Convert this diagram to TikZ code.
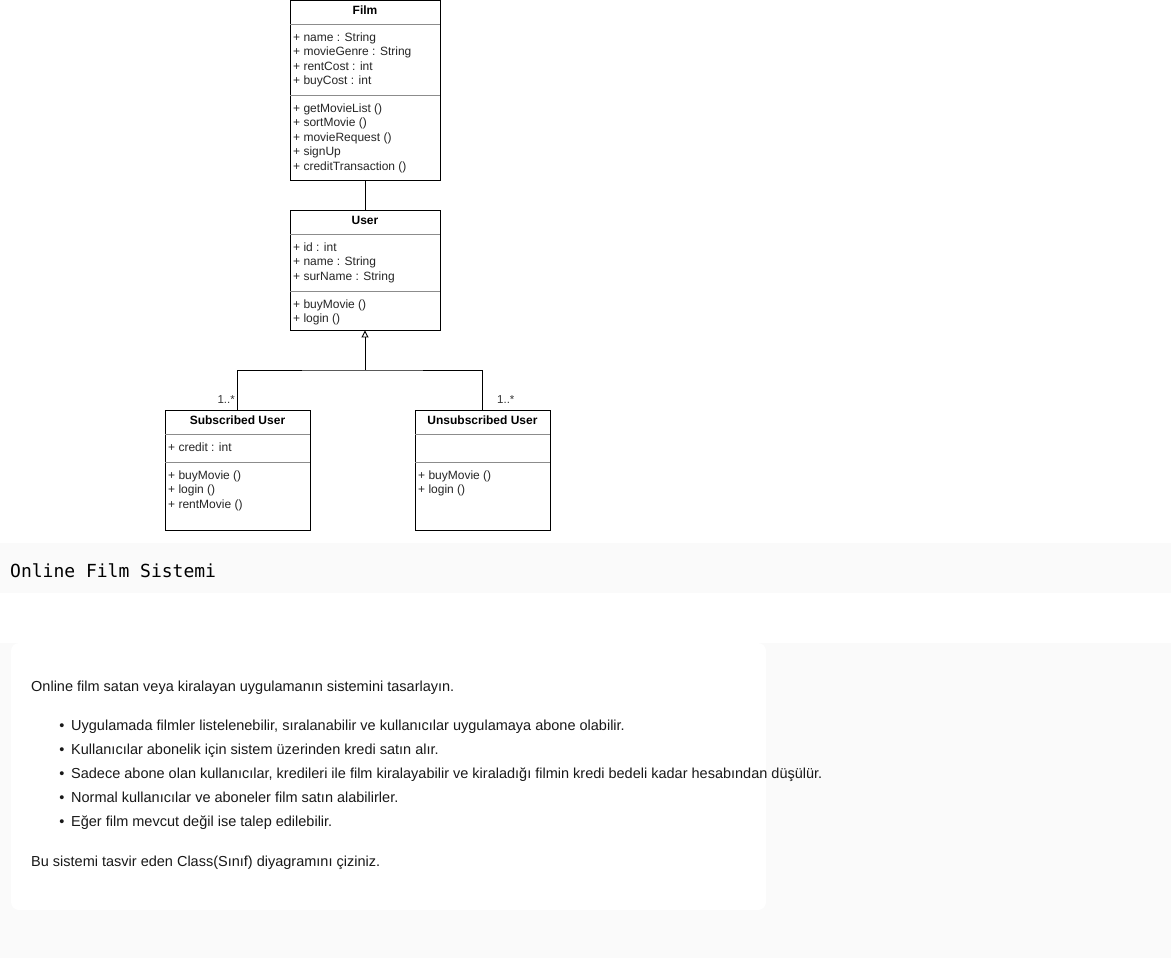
\documentclass[tikz,border=0pt]{standalone}
\usepackage{fontspec}
\setmainfont{Liberation Sans}
\setmonofont{DejaVu Sans Mono}
\usetikzlibrary{positioning,arrows.meta}

\begin{document}
\begin{tikzpicture}[x=1pt,y=1pt]
\tikzstyle{every node}+=[inner sep=0pt]
\tikzset{
  classbox/.style={draw=black, fill=white, line width=0.9pt},
  classname/.style={font=\fontsize{12}{14}\selectfont\bfseries, anchor=base},
  member/.style={font=\fontsize{12}{14}\selectfont, anchor=base west, text=black!85},
  sepline/.style={draw=black!45, line width=0.8pt},
  mult/.style={font=\fontsize{11.5}{13}\selectfont, text=black!80},
  para/.style={font=\fontsize{14.5}{16}\selectfont, anchor=base west, text=black!90},
  bggray/.style={fill=black!2},
}
\useasboundingbox (0,0) rectangle (1171,-961);

% page background
\fill [bggray] (0,-543) rectangle (1171,-593);
\node [font=\fontsize{18}{20}\selectfont\ttfamily, anchor=west] (title) at (10,-571) {Online Film Sistemi};
\fill [bggray] (0,-643) rectangle (1171,-958);
\fill [white, rounded corners=8] (11,-643) rectangle (766,-910);

% Film
\node [classbox, minimum width=150, minimum height=180] (film) at (365,-90) {};
\node [classname] (film-name) at (365,-14) {Film};
\draw [sepline] (290.4,-24) -- (439.6,-24);
\draw [sepline] (290.4,-95) -- (439.6,-95);
\foreach \txt [count=\i] in {+ name : String, + movieGenre : String, + rentCost : int, + buyCost : int}
  \node [member] (film-a\i) at (293,{-41-14.5*(\i-1)}) {\txt};
\foreach \txt [count=\i] in {+ getMovieList (), + sortMovie (), + movieRequest (), + signUp, + creditTransaction ()}
  \node [member] (film-m\i) at (293,{-112-14.5*(\i-1)}) {\txt};

% User
\node [classbox, minimum width=150, minimum height=120] (user) at (365,-270) {};
\node [classname] (user-name) at (365,-224) {User};
\draw [sepline] (290.4,-234) -- (439.6,-234);
\draw [sepline] (290.4,-291) -- (439.6,-291);
\foreach \txt [count=\i] in {+ id : int, + name : String, + surName : String}
  \node [member] (user-a\i) at (293,{-251-14.5*(\i-1)}) {\txt};
\foreach \txt [count=\i] in {+ buyMovie (), + login ()}
  \node [member] (user-m\i) at (293,{-308-14.5*(\i-1)}) {\txt};

% Subscribed User
\node [classbox, minimum width=145, minimum height=120] (sub) at (237.5,-470) {};
\node [classname] (sub-name) at (237.5,-424) {Subscribed User};
\draw [sepline] (165.4,-434) -- (309.6,-434);
\draw [sepline] (165.4,-462) -- (309.6,-462);
\node [member] (sub-a1) at (168,-451) {+ credit : int};
\foreach \txt [count=\i] in {+ buyMovie (), + login (), + rentMovie ()}
  \node [member] (sub-m\i) at (168,{-479-14.5*(\i-1)}) {\txt};

% Unsubscribed User
\node [classbox, minimum width=135, minimum height=120] (unsub) at (482.5,-470) {};
\node [classname] (unsub-name) at (482.5,-424) {Unsubscribed User};
\draw [sepline] (415.4,-434) -- (549.6,-434);
\draw [sepline] (415.4,-462) -- (549.6,-462);
\foreach \txt [count=\i] in {+ buyMovie (), + login ()}
  \node [member] (unsub-m\i) at (418,{-479-14.5*(\i-1)}) {\txt};

% relations
\draw [line width=0.9pt] (film.south) -- (user.north);
\coordinate (join) at (365,-370);
\draw [line width=0.9pt, -{Triangle[open, length=7, width=7]}] (join) -- (user.south);
\draw [line width=0.9pt] (sub.north) |- (join) -| (unsub.north);
\node [mult, anchor=base east] (sub-mult) at (235,-403) {1..*};
\node [mult, anchor=base west] (unsub-mult) at (497,-403) {1..*};

% task text
\node [para] (intro) at (31,-691) {Online film satan veya kiralayan uygulamanın sistemini tasarlayın.};
\foreach \txt [count=\i] in {{Uygulamada filmler listelenebilir, sıralanabilir ve kullanıcılar uygulamaya abone olabilir.},
    Kullanıcılar abonelik için sistem üzerinden kredi satın alır.,
    {Sadece abone olan kullanıcılar, kredileri ile film kiralayabilir ve kiraladığı filmin kredi bedeli kadar hesabından düşülür.},
    Normal kullanıcılar ve aboneler film satın alabilirler.,
    Eğer film mevcut değil ise talep edilebilir.} {
  \node [para] (item\i) at (71,{-730-24*(\i-1)}) {\txt};
  \node [para, anchor=base] (dot\i) at (62,{-730-24*(\i-1)}) {•};
}
\node [para] (outro) at (31,-866) {Bu sistemi tasvir eden Class(Sınıf) diyagramını çiziniz.};
\end{tikzpicture}
\end{document}
